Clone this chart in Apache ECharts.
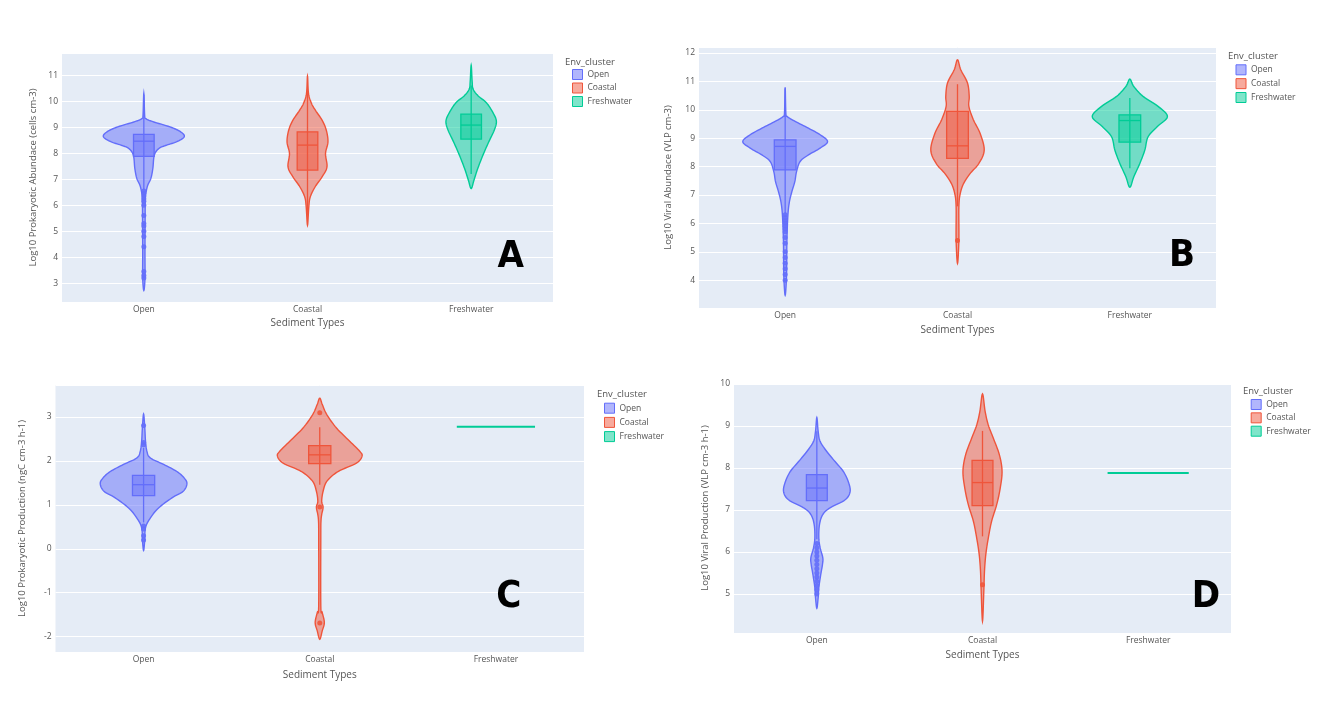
<!DOCTYPE html>
<html><head><meta charset="utf-8">
<script src="https://cdn.jsdelivr.net/npm/echarts@6/dist/echarts.min.js"></script>
<style>html,body{margin:0;padding:0;background:#fff}#c{width:1326px;height:710px}</style>
</head><body><div id="c"></div><script>
// ---------------- DATA ----------------
const categories = ['Open', 'Coastal', 'Freshwater'];
const clusterColors = ['#636EFA', '#EF553B', '#00CC96'];
const xTitle = 'Sediment Types';
const yTitles = [
  'Log10 Prokaryotic Abundace (cells cm-3)',
  'Log10 Viral Abundace (VLP cm-3)',
  'Log10 Prokaryotic Production (ngC cm-3 h-1)',
  'Log10 Viral Production (VLP cm-3 h-1)'
];
const panelLetters = ['A', 'B', 'C', 'D'];
const yRanges = [[2.28, 11.85], [3.02, 12.21], [-2.35, 3.73], [4.07, 10.02]];

// violin outlines: [value, half width as fraction of the category band]
const violinA_Open = [[10.30,0],[9.46,0.005],[9.33,0.012],[9.21,0.055],[9.01,0.16],[8.82,0.225],[8.63,0.247],[8.44,0.202],[8.31,0.14],[8.18,0.092],[7.92,0.064],[7.41,0.055],[7.03,0.043],[6.77,0.024],[6.51,0.014],[6.26,0.009],[5.49,0.008],[4.21,0.007],[3.2,0.007],[2.72,0]];
const violinA_Coastal = [[10.96,0],[10.30,0.006],[9.92,0.024],[9.65,0.048],[9.27,0.089],[8.88,0.115],[8.43,0.125],[7.98,0.11],[7.47,0.119],[7.09,0.089],[6.71,0.047],[6.32,0.017],[5.94,0.008],[5.23,0]];
const violinA_Freshwater = [[11.38,0],[10.75,0.006],[10.46,0.012],[10.2,0.043],[9.94,0.093],[9.55,0.134],[9.23,0.154],[8.9,0.142],[8.4,0.105],[7.88,0.069],[7.37,0.038],[6.96,0.017],[6.64,0]];
const violinB_Open = [[10.79,0],[9.88,0.004],[9.76,0.012],[9.59,0.058],[9.35,0.135],[9.12,0.203],[8.88,0.246],[8.65,0.203],[8.41,0.135],[8.18,0.087],[7.82,0.066],[7.47,0.056],[7.12,0.039],[6.77,0.025],[6.3,0.016],[5.36,0.01],[4.18,0.008],[3.47,0]];
const violinB_Coastal = [[11.76,0],[11.41,0.019],[10.94,0.058],[10.47,0.068],[10.12,0.066],[9.65,0.092],[9.17,0.131],[8.58,0.155],[8.11,0.124],[7.76,0.074],[7.41,0.036],[7.05,0.016],[6.58,0.008],[5.4,0.008],[4.59,0]];
const violinB_Freshwater = [[11.08,0],[10.82,0.023],[10.47,0.077],[10.12,0.164],[9.76,0.218],[9.41,0.16],[9.05,0.106],[8.58,0.087],[8.11,0.058],[7.64,0.023],[7.27,0]];
const violinC_Open = [[3.07,0],[2.74,0.007],[2.45,0.011],[2.22,0.019],[2.07,0.038],[1.92,0.114],[1.76,0.189],[1.61,0.231],[1.48,0.246],[1.31,0.225],[1.16,0.161],[0.93,0.085],[0.70,0.038],[0.48,0.011],[0.17,0.006],[-0.04,0]];
const violinC_Coastal = [[3.43,0],[3.28,0.015],[3.05,0.041],[2.75,0.095],[2.45,0.17],[2.22,0.227],[2.11,0.24],[1.95,0.208],[1.76,0.104],[1.54,0.041],[1.31,0.019],[1.08,0.011],[0.95,0.019],[0.78,0.011],[0.63,0.007],[0.3,0.006],[-1.3,0.006],[-1.45,0.014],[-1.68,0.026],[-1.87,0.014],[-2.06,0]];
const violinC_Freshwater = [[2.78,0.222]];
const violinD_Open = [[9.2,0],[8.87,0.008],[8.63,0.02],[8.39,0.06],[8.15,0.11],[7.92,0.159],[7.68,0.189],[7.44,0.201],[7.24,0.171],[7.05,0.08],[6.89,0.036],[6.65,0.016],[6.33,0.012],[6.1,0.02],[5.86,0.036],[5.7,0.034],[5.47,0.024],[5.15,0.012],[4.91,0.008],[4.66,0]];
const violinD_Coastal = [[9.76,0],[9.34,0.016],[9.02,0.035],[8.71,0.065],[8.31,0.102],[7.92,0.118],[7.52,0.107],[7.13,0.086],[6.73,0.055],[6.33,0.035],[5.94,0.02],[5.54,0.012],[5.07,0.008],[4.35,0]];
const violinD_Freshwater = [[7.88,0.245]];

// box stats: [lower fence, q1, median, q3, upper fence]
const boxA_Open = [6.6, 7.88, 8.46, 8.72, 10.25];
const boxA_Coastal = [5.6, 7.35, 8.31, 8.82, 10.4];
const boxA_Freshwater = [7.2, 8.54, 9.08, 9.5, 10.6];
const boxB_Open = [6.35, 7.88, 8.71, 8.94, 10.75];
const boxB_Coastal = [6.6, 8.29, 8.73, 9.94, 10.9];
const boxB_Freshwater = [7.94, 8.86, 9.62, 9.82, 10.41];
const boxC_Open = [0.6, 1.21, 1.46, 1.67, 2.3];
const boxC_Coastal = [1.46, 1.94, 2.14, 2.35, 2.77];
const boxC_Freshwater = null;
const boxD_Open = [6.3, 7.22, 7.52, 7.84, 8.87];
const boxD_Coastal = [6.37, 7.1, 7.65, 8.18, 8.88];
const boxD_Freshwater = null;

// outlier points
const outA_Open = [6.55, 6.45, 6.35, 6.25, 6.15, 6.0, 5.6, 5.3, 5.2, 5.0, 4.8, 4.4, 3.45, 3.3, 3.2];
const outA_Coastal = [];
const outA_Freshwater = [];
const outB_Open = [6.3, 6.2, 6.1, 6.0, 5.9, 5.8, 5.7, 5.5, 5.3, 5.0, 4.8, 4.6, 4.4, 4.2, 4.0];
const outB_Coastal = [5.4];
const outB_Freshwater = [];
const outC_Open = [2.81, 2.42, 2.37, 0.52, 0.45, 0.3, 0.2];
const outC_Coastal = [3.10, 0.95, -1.69];
const outC_Freshwater = [];
const outD_Open = [6.2, 6.1, 6.0, 5.9, 5.8, 5.7, 5.6, 5.5, 5.4, 5.3, 5.2, 5.1, 5.0];
const outD_Coastal = [5.22];
const outD_Freshwater = [];

// ---------------- LAYOUT / STYLE ----------------
const FONT = "'Open Sans', 'DejaVu Sans', sans-serif";
const TXT = '#555';
const grids = [
  {left: 62, top: 53, width: 491, height: 249},
  {left: 699, top: 47, width: 517, height: 261},
  {left: 55.5, top: 385, width: 528.5, height: 267},
  {left: 734, top: 383, width: 497, height: 250}
];
const xNameGaps = [16, 17.5, 18, 17];
const yNameGaps = [24, 26, 28, 24];
const legendPos = [
  {left: 572, top: 69, gap: 2.5, title: [565, 62]},
  {left: 1235.5, top: 64.3, gap: 2.85, title: [1228, 56]},
  {left: 604, top: 402.7, gap: 3.2, title: [597, 394]},
  {left: 1250.7, top: 399, gap: 2.35, title: [1243, 391]}
];
const letterPos = [[510.7, 257], [1182, 256], [508.7, 597.5], [1206, 597.5]];

const violins = [
  [violinA_Open, violinA_Coastal, violinA_Freshwater],
  [violinB_Open, violinB_Coastal, violinB_Freshwater],
  [violinC_Open, violinC_Coastal, violinC_Freshwater],
  [violinD_Open, violinD_Coastal, violinD_Freshwater]
];
const boxes = [
  [boxA_Open, boxA_Coastal, boxA_Freshwater],
  [boxB_Open, boxB_Coastal, boxB_Freshwater],
  [boxC_Open, boxC_Coastal, boxC_Freshwater],
  [boxD_Open, boxD_Coastal, boxD_Freshwater]
];
const outliers = [
  [outA_Open, outA_Coastal, outA_Freshwater],
  [outB_Open, outB_Coastal, outB_Freshwater],
  [outC_Open, outC_Coastal, outC_Freshwater],
  [outD_Open, outD_Coastal, outD_Freshwater]
];

function rgba(hex, a) {
  const n = parseInt(hex.slice(1), 16);
  return 'rgba(' + ((n >> 16) & 255) + ',' + ((n >> 8) & 255) + ',' + (n & 255) + ',' + a + ')';
}

function smoothClosed(pts, seg) {
  const n = pts.length, out = [];
  for (let i = 0; i < n; i++) {
    const p0 = pts[(i - 1 + n) % n], p1 = pts[i], p2 = pts[(i + 1) % n], p3 = pts[(i + 2) % n];
    const c1 = [p1[0] + (p2[0] - p0[0]) / 6, p1[1] + (p2[1] - p0[1]) / 6];
    const c2 = [p2[0] - (p3[0] - p1[0]) / 6, p2[1] - (p3[1] - p1[1]) / 6];
    for (let k = 0; k < seg; k++) {
      const t = k / seg, u = 1 - t;
      const a = u * u * u, b = 3 * u * u * t, c = 3 * u * t * t, d = t * t * t;
      out.push([a * p1[0] + b * c1[0] + c * c2[0] + d * p2[0], a * p1[1] + b * c1[1] + c * c2[1] + d * p2[1]]);
    }
  }
  return out;
}

const BOX_HALF = 0.063; // box half width, fraction of band

function makeRender(profile, box, color) {
  return function (params, api) {
    const cat = api.value(0);
    const band = api.size([1, 0])[0];
    const children = [];
    if (profile.length === 1) {
      const p = api.coord([cat, profile[0][0]]);
      const hw = profile[0][1] * band;
      children.push({type: 'line', shape: {x1: p[0] - hw, y1: p[1], x2: p[0] + hw, y2: p[1]},
        style: {stroke: color, lineWidth: 2}});
      return {type: 'group', children};
    }
    const pts = [];
    for (let i = 0; i < profile.length; i++) {
      const p = api.coord([cat, profile[i][0]]);
      pts.push([p[0] + profile[i][1] * band, p[1]]);
    }
    for (let i = profile.length - 2; i >= 1; i--) {
      const p = api.coord([cat, profile[i][0]]);
      pts.push([p[0] - profile[i][1] * band, p[1]]);
    }
    children.push({type: 'polygon', shape: {points: smoothClosed(pts, 8)},
      style: {fill: rgba(color, 0.5), stroke: color, lineWidth: 1.4}});
    if (box) {
      const lo = api.coord([cat, box[0]]), q1 = api.coord([cat, box[1]]), md = api.coord([cat, box[2]]),
        q3 = api.coord([cat, box[3]]), hi = api.coord([cat, box[4]]);
      const bw = BOX_HALF * band;
      children.push({type: 'line', shape: {x1: lo[0], y1: lo[1], x2: hi[0], y2: hi[1]},
        style: {stroke: color, lineWidth: 1.3}});
      children.push({type: 'rect', shape: {x: q3[0] - bw, y: q3[1], width: 2 * bw, height: q1[1] - q3[1]},
        style: {fill: rgba(color, 0.5), stroke: color, lineWidth: 1.3}});
      children.push({type: 'line', shape: {x1: md[0] - bw, y1: md[1], x2: md[0] + bw, y2: md[1]},
        style: {stroke: color, lineWidth: 1.3}});
    }
    return {type: 'group', children};
  };
}

// ---------------- OPTION ----------------
const option = {
  animation: false,
  backgroundColor: '#ffffff',
  grid: grids.map(g => Object.assign({show: true, backgroundColor: '#E5ECF6', borderWidth: 0}, g)),
  xAxis: grids.map((g, i) => ({
    gridIndex: i, type: 'category', data: categories,
    axisLine: {show: false}, axisTick: {show: false}, splitLine: {show: false},
    axisLabel: {fontSize: 8.5, color: TXT, margin: 3, fontFamily: FONT},
    name: xTitle, nameLocation: 'middle', nameGap: xNameGaps[i],
    nameTextStyle: {fontSize: 10, color: TXT, fontFamily: FONT}
  })),
  yAxis: grids.map((g, i) => ({
    gridIndex: i, type: 'value', min: yRanges[i][0], max: yRanges[i][1],
    minInterval: 1, maxInterval: 1, splitNumber: 10,
    axisLine: {show: false}, axisTick: {show: false},
    splitLine: {show: true, lineStyle: {color: '#ffffff', width: 1}},
    axisLabel: {fontSize: 8.5, color: TXT, margin: 4, fontFamily: FONT,
      formatter: v => (Math.abs(v - Math.round(v)) < 1e-6 ? String(Math.round(v)) : '')},
    name: yTitles[i], nameLocation: 'middle', nameGap: yNameGaps[i],
    nameTextStyle: {fontSize: 9.5, color: TXT, fontFamily: FONT}
  })),
  legend: legendPos.map(l => ({
    orient: 'vertical', left: l.left, top: l.top, padding: 0,
    itemWidth: 10, itemHeight: 10, itemGap: l.gap, icon: 'rect', selectedMode: false,
    textStyle: {fontSize: 8.5, color: TXT, fontFamily: FONT, lineHeight: 10},
    data: categories.map((c, k) => ({name: c,
      itemStyle: {color: rgba(clusterColors[k], 0.5), borderColor: clusterColors[k], borderWidth: 1}}))
  })),
  graphic: [],
  series: []
};

legendPos.forEach(l => option.graphic.push({type: 'text', x: l.title[0], y: l.title[1], silent: true, z: 100,
  style: {text: 'Env_cluster', fontSize: 9.5, fontFamily: FONT, fill: TXT, align: 'left', verticalAlign: 'middle'}}));
letterPos.forEach((p, i) => option.graphic.push({type: 'text', x: p[0], y: p[1], silent: true, z: 100, zlevel: 1,
  style: {text: panelLetters[i], fontSize: 38, fontWeight: 'bold',
    fontFamily: "'Liberation Sans Narrow', 'DejaVu Sans Condensed', 'Liberation Sans', sans-serif",
    fill: '#000', align: 'center', verticalAlign: 'middle'}}));

for (let p = 0; p < 4; p++) {
  for (let k = 0; k < 3; k++) {
    const prof = violins[p][k];
    const vals = prof.map(d => d[0]);
    option.series.push({
      type: 'custom', name: categories[k], xAxisIndex: p, yAxisIndex: p, silent: true,
      itemStyle: {color: clusterColors[k]},
      renderItem: makeRender(prof, boxes[p][k], clusterColors[k]),
      encode: {x: 0, y: [1, 2]},
      data: [[k, Math.min(...vals), Math.max(...vals)]]
    });
    if (outliers[p][k].length) {
      option.series.push({
        type: 'scatter', name: categories[k], xAxisIndex: p, yAxisIndex: p, silent: true,
        symbol: 'circle', symbolSize: 5, z: 3,
        itemStyle: {color: clusterColors[k], opacity: 0.9},
        data: outliers[p][k].map(v => [categories[k], v])
      });
    }
  }
}

const chart = echarts.init(document.getElementById('c'), null, {renderer: 'canvas'});
chart.setOption(option);
</script></body></html>
